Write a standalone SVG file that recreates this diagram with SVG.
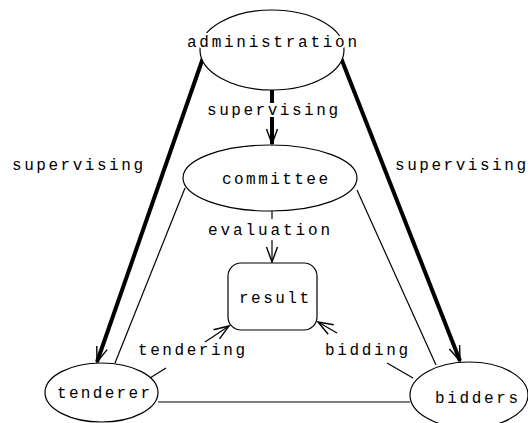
<svg xmlns="http://www.w3.org/2000/svg" width="528" height="423" viewBox="0 0 528 423">
<style>
.n{fill:#fff;stroke:#000;stroke-width:1.2}
.t{font-family:"Liberation Mono","DejaVu Sans Mono",monospace;font-size:16px;fill:#000;paint-order:stroke;stroke:#fff;stroke-width:4px;stroke-linejoin:round}
.thin{stroke:#000;stroke-width:1.2;fill:none}
.thick{stroke:#000;stroke-width:4;fill:none}
</style>
<defs>
<marker id="ah" markerUnits="userSpaceOnUse" markerWidth="30" markerHeight="30" refX="0" refY="0" viewBox="-20 -10 30 20" orient="auto" overflow="visible">
<path d="M-15,-5.5 L0,0 L-15,5.5" fill="none" stroke="#000" stroke-width="1.4"/>
</marker>
</defs>
<rect width="528" height="423" fill="#fff"/>
<g id="connectors">
<line class="thin" x1="185" y1="188" x2="115" y2="363"/>
<line class="thin" x1="357" y1="190" x2="436" y2="365"/>
<line class="thin" x1="158" y1="402" x2="410" y2="402"/>
<line class="thick" x1="203" y1="58" x2="97" y2="362" marker-end="url(#ah)"/>
<line class="thick" x1="341" y1="58" x2="460" y2="361" marker-end="url(#ah)"/>
<line class="thick" x1="272" y1="90" x2="272" y2="103"/>
<line class="thick" x1="272" y1="117" x2="272" y2="144" marker-end="url(#ah)"/>
<line class="thin" x1="272" y1="211" x2="272" y2="219"/>
<line class="thin" x1="272" y1="240" x2="272" y2="262" marker-end="url(#ah)"/>
<line class="thin" x1="150" y1="378" x2="166" y2="368"/>
<line class="thin" x1="205" y1="342" x2="229" y2="326" marker-end="url(#ah)"/>
<line class="thin" x1="413" y1="378" x2="387" y2="363"/>
<line class="thin" x1="337" y1="333" x2="318" y2="322" marker-end="url(#ah)"/>
<text class="t" x="207" y="115" textLength="131" lengthAdjust="spacing">supervising</text>
<text class="t" x="12" y="170" textLength="131" lengthAdjust="spacing">supervising</text>
<text class="t" x="395" y="170" textLength="131" lengthAdjust="spacing">supervising</text>
<text class="t" x="208" y="235" textLength="122" lengthAdjust="spacing">evaluation</text>
<text class="t" x="138" y="355" textLength="107" lengthAdjust="spacing">tendering</text>
<text class="t" x="325" y="355" textLength="83" lengthAdjust="spacing">bidding</text>
</g>
<g id="administration">
<ellipse class="n" cx="272" cy="50" rx="72" ry="40"/>
<text class="t" x="187" y="47" textLength="170" lengthAdjust="spacing">administration</text>
</g>
<g id="committee">
<ellipse class="n" cx="270" cy="178" rx="87" ry="33"/>
<text class="t" x="222" y="184" textLength="106" lengthAdjust="spacing">committee</text>
</g>
<g id="result">
<rect class="n" x="228" y="263" width="89" height="67" rx="13"/>
<text class="t" x="239" y="303" textLength="70" lengthAdjust="spacing">result</text>
</g>
<g id="tenderer">
<ellipse class="n" cx="101.5" cy="392.5" rx="56.5" ry="29.5"/>
<text class="t" x="57" y="398" textLength="93" lengthAdjust="spacing">tenderer</text>
</g>
<g id="bidders">
<ellipse class="n" cx="469" cy="395" rx="59" ry="33"/>
<text class="t" x="435" y="403" textLength="83" lengthAdjust="spacing">bidders</text>
</g>
</svg>
